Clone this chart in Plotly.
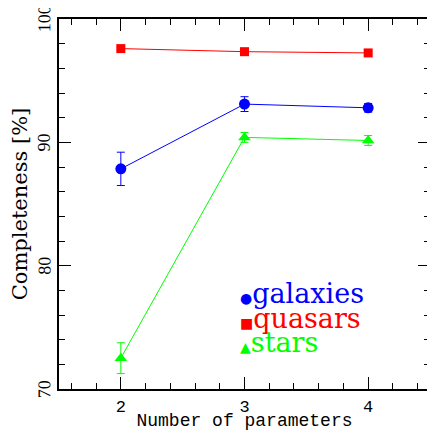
import plotly.graph_objects as go

n_params = [2, 3, 4]

galaxies = [87.85, 93.1, 92.8]
galaxies_err = [1.35, 0.6, 0.35]

quasars = [97.6, 97.35, 97.25]
quasars_err = [0.15, 0.15, 0.15]

stars = [72.5, 90.4, 90.15]
stars_err = [1.25, 0.4, 0.4]

y_ticks = [70, 80, 90, 100]

SERIF = "DejaVu Serif, serif"
MONO = "Liberation Mono, Courier New, monospace"

fig = go.Figure()


def add_series(y, err, color, symbol, size, name):
    fig.add_trace(go.Scatter(
        x=n_params, y=y, name=name, mode="lines+markers",
        line=dict(color=color, width=1),
        marker=dict(color=color, symbol=symbol, size=size),
        error_y=dict(type="data", array=err, color=color, thickness=1, width=4),
        showlegend=False,
    ))


add_series(galaxies, galaxies_err, "#0000ff", "circle", 11, "galaxies")
add_series(quasars, quasars_err, "#ff0000", "square", 9, "quasars")
add_series(stars, stars_err, "#00ff00", "triangle-up", 11, "stars")

legend_items = [
    ("●", "galaxies", "#0000ff", 0.258),
    ("■", "quasars", "#ff0000", 0.191),
    ("▲", "stars", "#00ff00", 0.126),
]
for sym, label, color, ypos in legend_items:
    fig.add_annotation(
        x=0.482, y=ypos, xref="paper", yref="paper", xanchor="left", yanchor="middle",
        text=f"<span style='font-size:14px'>{sym}</span>{label}",
        showarrow=False, font=dict(family=SERIF, size=27, color=color),
    )

# rotated y tick labels, as in the original
for v in y_ticks:
    fig.add_annotation(
        x=-0.04, y=v, xref="paper", yref="y", xanchor="center", yanchor="middle",
        text=str(v), textangle=-89.9, showarrow=False,
        font=dict(family="Liberation Serif, serif", size=18, color="black"),
    )

axis_common = dict(
    showgrid=False, zeroline=False, automargin=False,
    showline=True, linecolor="black", linewidth=2, mirror="allticks",
    ticks="inside", ticklen=12, tickwidth=1, tickcolor="black",
    tickfont=dict(family=MONO, size=17, color="black"),
)

fig.update_xaxes(
    range=[1.5, 4.5], tickvals=n_params, ticklabelstandoff=1,
    minor=dict(ticks="inside", ticklen=6, dtick=0.2, tick0=1.4, tickcolor="black"),
    title=dict(text="Number of parameters", font=dict(family=MONO, size=18, color="black"), standoff=5),
    **axis_common,
)
fig.update_yaxes(
    range=[70, 100], tickvals=y_ticks, showticklabels=False,
    minor=dict(ticks="inside", ticklen=6, dtick=2, tick0=70, tickcolor="black"),
    title=dict(text="Completeness [%]", font=dict(family=SERIF, size=21, color="black"), standoff=24),
    **axis_common,
)

# page body keeps its default 8px margin, so the figure is sized to fit the window
fig.update_layout(
    width=427, height=423,
    margin=dict(l=51, r=5, t=11, b=42),
    paper_bgcolor="white", plot_bgcolor="white",
)

fig.write_html("out.html")
